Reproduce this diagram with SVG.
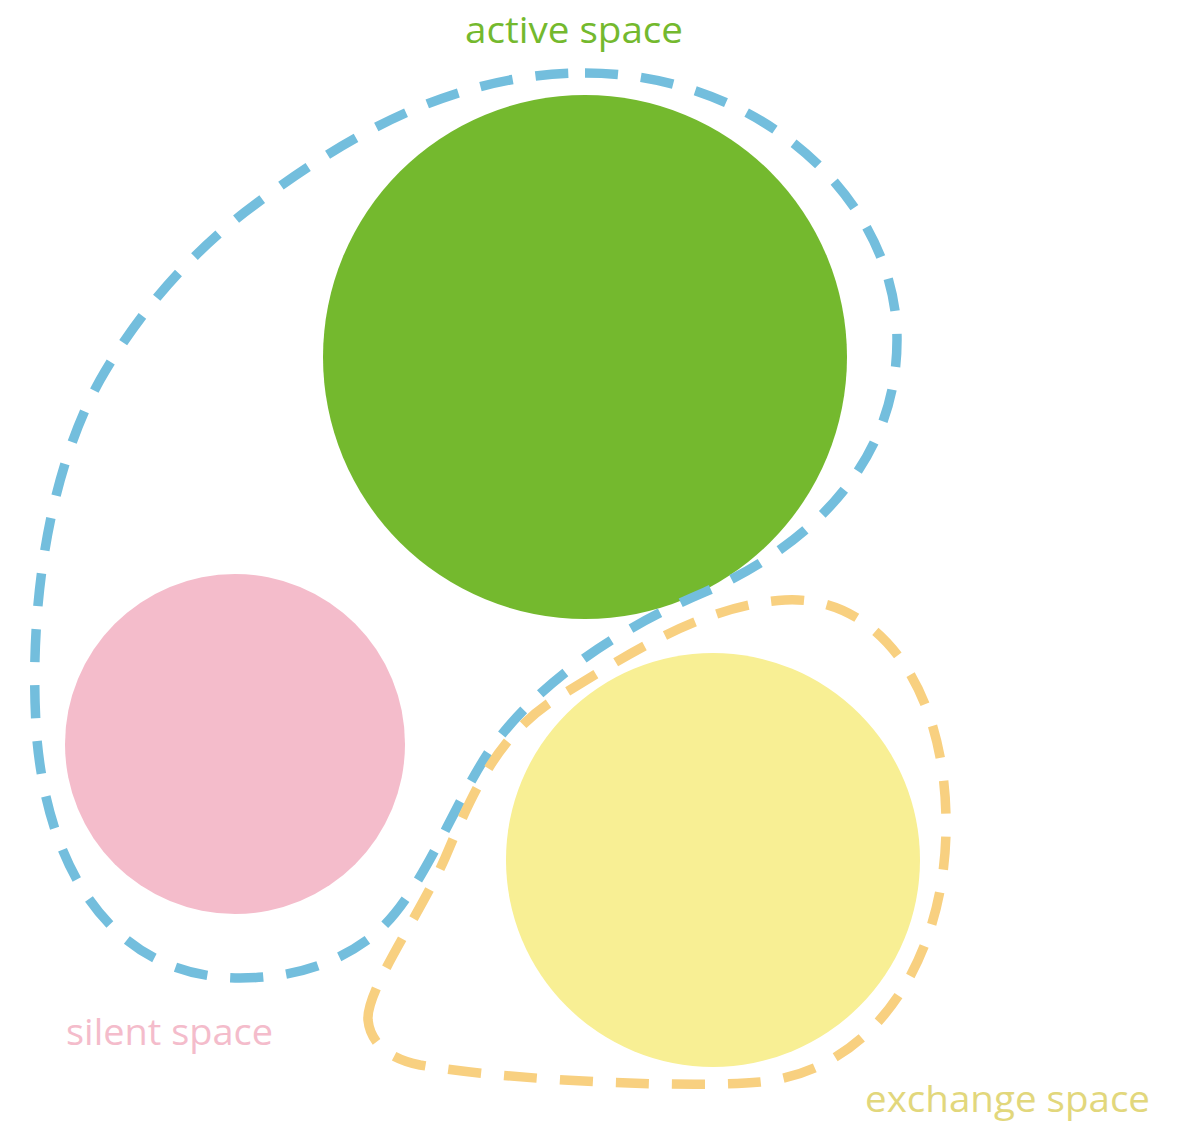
<svg xmlns="http://www.w3.org/2000/svg" width="1195" height="1130" viewBox="0 0 1195 1130">
<style>
.lbl{font-family:"Open Sans","Noto Sans",sans-serif;font-size:37px}
.dash{fill:none;stroke-width:9.5;stroke-dasharray:33 23}
</style>
<rect width="1195" height="1130" fill="#fff"/>
<g id="active"><circle cx="585" cy="357" r="262" fill="#74b92e"/></g>
<g id="silent"><circle cx="235" cy="744" r="170" fill="#f4bccb"/></g>
<g id="exchange"><circle cx="713" cy="860" r="207" fill="#f8ef94"/></g>
<g id="connectors">
<path class="dash" stroke="#73bedd" d="M585 73 C760 73 897 200 897 340 C897 470 800 550 705 592 C620 628 540 680 490 750 C450 810 420 900 370 938 C330 968 285 978 240 978 C120 978 50 880 37 740 C28 620 45 480 100 380 C140 310 190 255 245 212 C340 140 450 73 585 73 Z"/>
<path class="dash" stroke="#f8d080" d="M368 1020 C366 990 420 915 445 858 C470 800 495 735 560 696 C620 660 700 605 785 600 C880 595 945 690 946 820 C948 950 880 1070 760 1082 C700 1088 520 1082 420 1065 C385 1058 370 1040 368 1020 Z"/>
</g>
<text class="lbl" x="465" y="43" fill="#74b92e" textLength="218" lengthAdjust="spacingAndGlyphs">active space</text>
<text class="lbl" x="66" y="1045" fill="#f4bccb" textLength="207" lengthAdjust="spacingAndGlyphs">silent space</text>
<text class="lbl" x="865" y="1112" fill="#e2d77c" textLength="285" lengthAdjust="spacingAndGlyphs">exchange space</text>
</svg>
